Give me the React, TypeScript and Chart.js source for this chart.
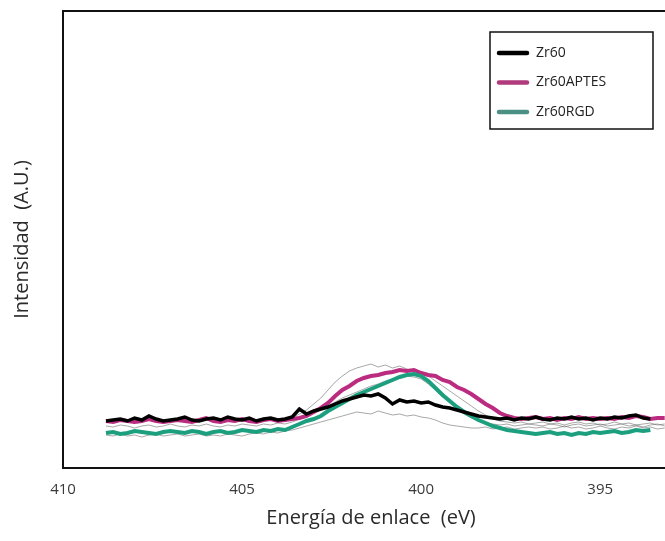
import React, { useEffect, useRef } from "react";
import { Chart, registerables } from "chart.js";

Chart.register(...registerables);

// Binding energy axis (eV), high to low
const ENERGY_EV = [
  408.8, 408.6, 408.4, 408.2, 408.0, 407.8, 407.6, 407.4, 407.2, 407.0,
  406.8, 406.6, 406.4, 406.2, 406.0, 405.8, 405.6, 405.4, 405.2, 405.0,
  404.8, 404.6, 404.4, 404.2, 404.0, 403.8, 403.6, 403.4, 403.2, 403.0,
  402.8, 402.6, 402.4, 402.2, 402.0, 401.8, 401.6, 401.4, 401.2, 401.0,
  400.8, 400.6, 400.4, 400.2, 400.0, 399.8, 399.6, 399.4, 399.2, 399.0,
  398.8, 398.6, 398.4, 398.2, 398.0, 397.8, 397.6, 397.4, 397.2, 397.0,
  396.8, 396.6, 396.4, 396.2, 396.0, 395.8, 395.6, 395.4, 395.2, 395.0,
  394.8, 394.6, 394.4, 394.2, 394.0, 393.8, 393.6, 393.4, 393.2,
];

// N 1s intensity (a.u.)
const ZR60 = [
  16, 17, 18, 16, 19, 17, 21, 18, 16, 17,
  18, 20, 17, 16, 18, 19, 17, 20, 18, 17,
  19, 16, 18, 19, 17, 18, 20, 28, 23, 26,
  28, 30, 33, 36, 38, 40, 42, 41, 43, 39,
  33, 37, 35, 36, 34, 35, 32, 30, 29, 27,
  25, 23, 21, 20, 19, 18, 19, 17, 19, 18,
  20, 18, 17, 19, 18, 20, 18, 19, 17, 19,
  18, 20, 19, 21, 22, 19, 18, null, null,
];

const ZR60_APTES = [
  16, 15, 17, 16, 15, 16, 18, 16, 15, 16,
  17, 16, 15, 17, 19, 16, 15, 17, 16, 18,
  16, 15, 17, 18, 16, 17, 18, 19, 21, 25,
  29, 34, 41, 47, 51, 56, 59, 61, 62, 64,
  65, 67, 66, 67, 64, 62, 61, 57, 55, 50,
  47, 43, 38, 33, 29, 24, 21, 19, 18, 19,
  20, 18, 19, 17, 19, 18, 20, 18, 19, 18,
  19, 18, 20, 19, 21, 20, 18, 19, 19,
];

const ZR60_RGD = [
  4, 5, 3, 4, 6, 5, 4, 3, 5, 6,
  5, 4, 6, 5, 3, 5, 6, 4, 5, 7,
  6, 5, 7, 6, 8, 7, 10, 13, 16, 18,
  21, 26, 30, 34, 38, 42, 45, 48, 51, 54,
  57, 60, 62, 63, 61, 56, 49, 42, 36, 30,
  25, 21, 17, 14, 11, 9, 7, 6, 5, 4,
  3, 4, 5, 3, 4, 2, 4, 3, 5, 4,
  5, 6, 4, 5, 7, 6, 7, null, null,
];

// Thin raw scans drawn behind the averaged curves
const SCAN_HIGH = [
  null, null, null, null, null, null, null, null, null, null,
  null, null, null, null, null, null, null, null, null, null,
  null, null, null, null, null, null, 19, 23, 27, 33,
  39, 47, 55, 61, 66, 69, 71, 73, 70, 72,
  69, 71, 68, 66, 65, 61, 56, 51, 46, 41,
  36, 31, 26, 22, 18, 16, 15, 14, 15, 13,
  14, 15, 13, 14, 12, 14, 15, 13, 14, 12,
  13, 15, 13, 14, 12, 13, 14, 12, 13,
];

const SCAN_LOW = [
  2, 1, 3, 1, 2, 0, 2, 3, 1, 2,
  3, 1, 2, 3, 1, 2, 1, 3, 2, 1,
  3, 4, 3, 5, 4, 6, 7, 9, 11, 13,
  15, 17, 19, 21, 23, 25, 24, 23, 26, 24,
  22, 23, 21, 22, 20, 19, 17, 14, 12, 11,
  10, 9, 9, 10, 8, 9, 10, 8, 9, 10,
  9, 10, 8, 9, 11, 9, 10, 8, 9, 11,
  9, 8, 10, 9, 11, 9, 10, 8, 9,
];

const SCAN_MID = [
  11, 10, 12, 11, 9, 11, 12, 10, 11, 13,
  11, 10, 12, 11, 13, 11, 10, 12, 11, 13,
  12, 11, 13, 12, 14, 13, 15, 18, 21, 24,
  27, 31, 35, 39, 42, 45, 48, 51, 53, 56,
  58, 60, 61, 60, 58, 53, 47, 40, 34, 28,
  23, 19, 16, 14, 13, 12, 13, 11, 12, 13,
  12, 11, 13, 12, 10, 12, 13, 11, 12, 13,
  11, 12, 13, 11, 12, 10, 12, 13, 11,
];

const X_TICKS = [410, 405, 400, 395];
// Intensity range shown on the (unlabelled) vertical axis
const Y_MIN = -31;
const Y_MAX = 426;

const SERIES_NAMES = ["Zr60", "Zr60APTES", "Zr60RGD"];
const SERIES_COLORS = ["#000000", "#bb2b80", "#1c9f7f"];
const LEGEND_COLORS = ["#000000", "#b03a7c", "#4b9084"];

const FONT = '"Open Sans", "Noto Sans", sans-serif';

const framePlugin = {
  id: "plotFrame",
  afterDatasetsDraw(chart: any) {
    const { ctx, chartArea } = chart;
    ctx.save();
    ctx.strokeStyle = "#111111";
    ctx.lineWidth = 2;
    ctx.strokeRect(
      chartArea.left,
      chartArea.top,
      chartArea.right - chartArea.left,
      chartArea.bottom - chartArea.top
    );
    ctx.restore();
  },
};

const boxedLegend = {
  id: "boxedLegend",
  afterDraw(chart: any) {
    const { ctx } = chart;
    const x = 490;
    const y = 32;
    const w = 163;
    const h = 97;
    ctx.save();
    ctx.fillStyle = "#ffffff";
    ctx.fillRect(x, y, w, h);
    ctx.strokeStyle = "#111111";
    ctx.lineWidth = 1.5;
    ctx.strokeRect(x, y, w, h);
    ctx.font = `14px ${FONT}`;
    ctx.textBaseline = "middle";
    ctx.textAlign = "left";
    SERIES_NAMES.forEach((name, i) => {
      const cy = y + 21 + i * 29.5;
      ctx.strokeStyle = LEGEND_COLORS[i];
      ctx.lineWidth = 4.5;
      ctx.lineCap = "round";
      ctx.beginPath();
      ctx.moveTo(x + 9, cy);
      ctx.lineTo(x + 37, cy);
      ctx.stroke();
      ctx.fillStyle = "#222222";
      ctx.fillText(name, x + 46, cy);
    });
    ctx.restore();
  },
};

export default function App() {
  const canvasRef = useRef<HTMLCanvasElement | null>(null);

  useEffect(() => {
    if (!canvasRef.current) return;
    const scan = (data: (number | null)[]) => ({
      label: "",
      data,
      borderColor: "rgba(110,110,110,0.6)",
      borderWidth: 1,
      pointRadius: 0,
      tension: 0,
      spanGaps: false,
    });
    const main = (i: number, data: (number | null)[], width: number) => ({
      label: SERIES_NAMES[i],
      data,
      borderColor: SERIES_COLORS[i],
      borderWidth: width,
      pointRadius: 0,
      tension: 0,
      spanGaps: false,
    });

    const chart = new Chart(canvasRef.current, {
      type: "line",
      data: {
        labels: ENERGY_EV,
        datasets: [
          main(0, ZR60, 3.5),
          main(2, ZR60_RGD, 4),
          main(1, ZR60_APTES, 4),
          scan(SCAN_HIGH),
          scan(SCAN_MID),
          scan(SCAN_LOW),
        ],
      },
      options: {
        animation: false,
        responsive: true,
        maintainAspectRatio: false,
        events: [],
        layout: { padding: { left: 0, top: 11, right: 11, bottom: 0 } },
        plugins: {
          legend: { display: false },
          tooltip: { enabled: false },
        },
        scales: {
          x: {
            type: "linear",
            reverse: true,
            min: 392.8,
            max: 410,
            grid: { display: false, drawTicks: false },
            border: { display: false },
            afterBuildTicks: (s: any) => {
              s.ticks = X_TICKS.map((v) => ({ value: v }));
            },
            afterFit: (s: any) => {
              s.height = 73;
            },
            ticks: {
              padding: 13,
              color: "#3a3a3a",
              font: { family: FONT, size: 15 },
              callback: (v: any) => String(v),
            },
            title: {
              display: true,
              text: "Energía de enlace  (eV)",
              color: "#2a2a2a",
              font: { family: FONT, size: 20 },
              padding: { top: 0, bottom: 11 },
            },
          },
          y: {
            min: Y_MIN,
            max: Y_MAX,
            grid: { display: false },
            border: { display: false },
            ticks: { display: false },
            afterFit: (s: any) => {
              s.width = 63;
            },
            title: {
              display: true,
              text: "Intensidad  (A.U.)",
              color: "#2a2a2a",
              font: { family: FONT, size: 20 },
              padding: { top: 10, bottom: 0 },
            },
          },
        },
      },
      plugins: [framePlugin, boxedLegend],
    } as any);

    return () => chart.destroy();
  }, []);

  return (
    <div
      style={{
        position: "fixed",
        left: 0,
        top: 0,
        width: 665,
        height: 541,
        overflow: "hidden",
        background: "#ffffff",
      }}
    >
      <div style={{ position: "relative", width: 690, height: 541 }}>
        <canvas ref={canvasRef} />
      </div>
    </div>
  );
}
